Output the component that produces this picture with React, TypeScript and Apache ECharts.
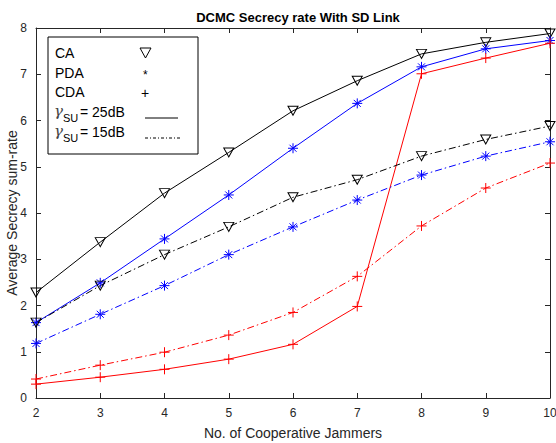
import React, { useEffect, useRef } from "react";
import * as echarts from "echarts";

// Number of cooperative jammers
const jammers = [2, 3, 4, 5, 6, 7, 8, 9, 10];

// Average secrecy sum-rate, gamma_SU = 25 dB
const ca25 = [2.28, 3.37, 4.43, 5.31, 6.21, 6.86, 7.44, 7.69, 7.88];
const pda25 = [1.63, 2.49, 3.44, 4.39, 5.4, 6.37, 7.16, 7.55, 7.73];
const cda25 = [0.3, 0.45, 0.62, 0.84, 1.16, 1.98, 7.01, 7.35, 7.67];

// Average secrecy sum-rate, gamma_SU = 15 dB
const ca15 = [1.63, 2.43, 3.1, 3.7, 4.34, 4.72, 5.23, 5.59, 5.88];
const pda15 = [1.18, 1.81, 2.43, 3.1, 3.7, 4.28, 4.82, 5.23, 5.54];
const cda15 = [0.41, 0.71, 0.99, 1.36, 1.85, 2.63, 3.72, 4.54, 5.08];

const FONT = "Liberation Sans, Arial, Helvetica, sans-serif";
const AXIS = "#262626";
const DASHDOT = [7, 3, 1.5, 3];

const STAR = "path://M0,5L10,5M5,0L5,10M1.5,1.5L8.5,8.5M8.5,1.5L1.5,8.5";
const PLUS = "path://M0,5L10,5M5,0L5,10";

const pairs = (ys: number[]) => jammers.map((x, i) => [x, ys[i]]);

function makeSeries(name: string, ys: number[], color: string, marker: string, dashed: boolean) {
  const tri = marker === "tri";
  return {
    name,
    type: "line",
    data: pairs(ys),
    symbol: tri ? "triangle" : marker,
    symbolRotate: tri ? 180 : 0,
    symbolSize: tri ? [10, 9] : 10,
    showAllSymbol: true,
    itemStyle: { color: "rgba(0,0,0,0)", borderColor: color, borderWidth: 1 },
    lineStyle: { color, width: 1, type: dashed ? DASHDOT : "solid" },
    emphasis: { disabled: true },
  };
}

export default function App() {
  const ref = useRef<HTMLDivElement>(null);

  useEffect(() => {
    if (!ref.current) return;
    const chart = echarts.init(ref.current, null, { renderer: "svg" });

    const axisCommon = {
      type: "value",
      interval: 1,
      axisLine: { show: true, onZero: false, lineStyle: { color: AXIS, width: 1 } },
      axisTick: { show: true, inside: true, length: 5, lineStyle: { color: AXIS } },
      splitLine: { show: false },
    };

    // Legend box contents
    const lx = 48, ly = 37;
    const rowY = [53, 73, 92, 112, 132];
    const txt = (x: number, y: number, text: string, size = 14, extra: any = {}) => ({
      type: "text",
      x,
      y,
      style: { text, fontFamily: FONT, fontSize: size, fill: "#000", verticalAlign: "middle", ...extra },
    });
    const gamma = (y: number) =>
      txt(54, y, "γ", 15, { fill: "#444", fontFamily: "DejaVu Serif, serif", fontStyle: "italic" });

    const graphic: any[] = [
      {
        type: "rect",
        shape: { x: lx, y: ly, width: 150, height: 117 },
        style: { fill: "#fff", stroke: "#000", lineWidth: 1 },
      },
      txt(55, rowY[0], "CA"),
      txt(55, rowY[1], "PDA"),
      txt(55, rowY[2], "CDA"),
      gamma(rowY[3] - 1),
      txt(63, rowY[3] + 6, "SU", 11),
      txt(80, rowY[3], "= 25dB"),
      gamma(rowY[4] - 1),
      txt(63, rowY[4] + 6, "SU", 11),
      txt(80, rowY[4], "= 15dB"),
      {
        type: "polygon",
        shape: { points: [[140, rowY[0] - 5], [151, rowY[0] - 5], [145.5, rowY[0] + 5]] },
        style: { fill: "none", stroke: "#000", lineWidth: 1 },
      },
      txt(143, rowY[1] + 2, "*", 12),
      txt(141, rowY[2] + 1, "+", 14),
      {
        type: "line",
        shape: { x1: 145, y1: rowY[3] + 6, x2: 178, y2: rowY[3] + 6 },
        style: { stroke: "#000", lineWidth: 1 },
      },
      {
        type: "line",
        shape: { x1: 145, y1: rowY[4] + 6, x2: 182, y2: rowY[4] + 6 },
        style: { stroke: "#000", lineWidth: 1, lineDash: [3, 2, 1, 2] },
      },
      // y-axis title, rotated
      {
        type: "text",
        x: 12,
        y: 213,
        rotation: Math.PI / 2,
        style: {
          text: "Average Secrecy sum-rate",
          fontFamily: FONT,
          fontSize: 14,
          fill: AXIS,
          align: "center",
          verticalAlign: "middle",
        },
      },
    ];

    chart.setOption({
      animation: false,
      backgroundColor: "#fff",
      title: {
        text: "DCMC Secrecy rate With SD Link",
        left: 293,
        top: 6,
        textAlign: "center",
        textStyle: { fontFamily: FONT, fontSize: 13, fontWeight: "bold", color: "#000" },
      },
      grid: { left: 36, right: 6, top: 28, bottom: 45, containLabel: false, outerBoundsMode: "none" },
      xAxis: [
        {
          ...axisCommon,
          min: 2,
          max: 10,
          position: "bottom",
          name: "No. of Cooperative Jammers",
          nameLocation: "middle",
          nameGap: 28,
          nameTextStyle: { fontFamily: FONT, fontSize: 14, color: AXIS },
          axisLabel: { fontFamily: FONT, fontSize: 12, color: AXIS, margin: 9 },
        },
        {
          ...axisCommon,
          min: 2,
          max: 10,
          position: "top",
          axisLabel: { show: false },
        },
      ],
      yAxis: [
        {
          ...axisCommon,
          min: 0,
          max: 8,
          position: "left",
          axisLabel: { fontFamily: FONT, fontSize: 12, color: AXIS, margin: 9 },
        },
        {
          ...axisCommon,
          min: 0,
          max: 8,
          position: "right",
          axisLabel: { show: false },
        },
      ],
      series: [
        makeSeries("CA 25dB", ca25, "#000000", "tri", false),
        makeSeries("PDA 25dB", pda25, "#0000ff", STAR, false),
        makeSeries("CDA 25dB", cda25, "#ff0000", PLUS, false),
        makeSeries("CA 15dB", ca15, "#000000", "tri", true),
        makeSeries("PDA 15dB", pda15, "#0000ff", STAR, true),
        makeSeries("CDA 15dB", cda15, "#ff0000", PLUS, true),
      ],
      graphic,
    });

    return () => chart.dispose();
  }, []);

  return <div ref={ref} style={{ width: 556, height: 443, position: "absolute", left: 0, top: 0 }} />;
}
